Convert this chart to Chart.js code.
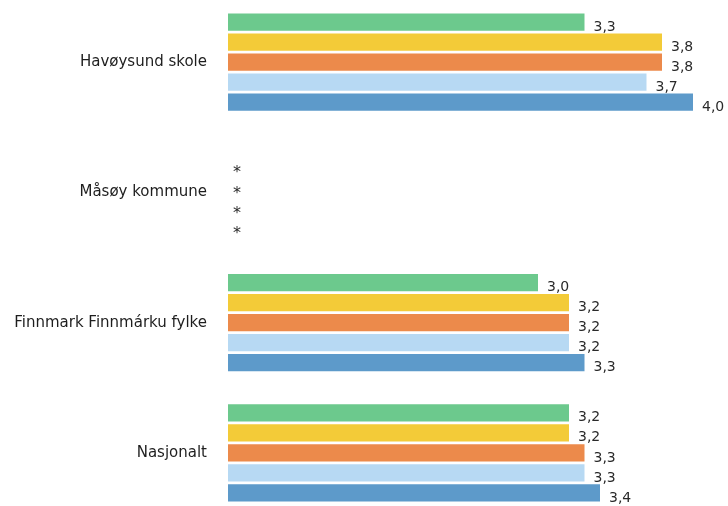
<!DOCTYPE html>
<html>
<head>
<meta charset="utf-8">
<script src="https://cdn.jsdelivr.net/npm/chart.js@4/dist/chart.umd.min.js"></script>
<style>
  html, body { margin: 0; padding: 0; background: #ffffff; overflow: hidden; width: 728px; height: 506px; }
  #wrap { position: absolute; left: 0; top: -3px; width: 728px; height: 521px; }
</style>
</head>
<body>
<div id="wrap"><canvas id="c"></canvas></div>
<script>
// ---- data ----
const categories = ['Havøysund skole', 'Måsøy kommune', 'Finnmark Finnmárku fylke', 'Nasjonalt'];
const seriesNames = ['Serie 1', 'Serie 2', 'Serie 3', 'Serie 4', 'Serie 5'];
const series1 = [3.3, null, 3.0, 3.2];
const series2 = [3.8, null, 3.2, 3.2];
const series3 = [3.8, null, 3.2, 3.3];
const series4 = [3.7, null, 3.2, 3.3];
const series5 = [4.0, null, 3.3, 3.4];
// which series show "*" (too few answers) per category
const hiddenMark = [
  [false, false, false, false, false],
  [false, true, true, true, true],
  [false, false, false, false, false],
  [false, false, false, false, false]
];
const scaleMin = 1;
const scaleMax = 4.2;

const colors = ['#6cc98d', '#f3cb38', '#ec8a4b', '#b7d9f3', '#5d9aca'];
const allSeries = [series1, series2, series3, series4, series5];

const labelPlugin = {
  id: 'valueLabels',
  afterDatasetsDraw(chart) {
    const ctx = chart.ctx;
    const xScale = chart.scales.x;
    ctx.save();
    ctx.fillStyle = '#2a2a2a';
    ctx.textBaseline = 'middle';
    ctx.textAlign = 'left';
    chart.data.datasets.forEach((ds, di) => {
      const meta = chart.getDatasetMeta(di);
      meta.data.forEach((el, i) => {
        const v = ds.data[i];
        if (v !== null && v !== undefined) {
          ctx.font = '14px "DejaVu Sans", sans-serif';
          ctx.fillText(v.toFixed(1).replace('.', ','), el.x + 9, el.y + 5);
        } else if (hiddenMark[i] && hiddenMark[i][di]) {
          ctx.font = '16px "DejaVu Sans", sans-serif';
          ctx.fillText('*', xScale.getPixelForValue(scaleMin) + 5, el.y + 1);
        }
      });
    });
    ctx.restore();
  }
};

new Chart(document.getElementById('c'), {
  type: 'bar',
  data: {
    labels: categories,
    datasets: allSeries.map((d, i) => ({
      label: seriesNames[i],
      data: d,
      backgroundColor: colors[i],
      borderWidth: 0,
      barPercentage: 0.86,
      categoryPercentage: 0.77
    }))
  },
  options: {
    indexAxis: 'y',
    responsive: true,
    maintainAspectRatio: false,
    animation: false,
    layout: { padding: { left: 0, right: 4, top: 0, bottom: 0 } },
    plugins: { legend: { display: false }, tooltip: { enabled: false } },
    scales: {
      x: {
        display: false,
        min: scaleMin,
        max: scaleMax,
        grid: { display: false }
      },
      y: {
        grid: { display: false, drawTicks: false },
        border: { display: false },
        ticks: {
          color: '#1e1e1e',
          padding: 21,
          font: { family: '"DejaVu Sans", sans-serif', size: 15 }
        },
        afterFit(scale) {
          scale.width = 228;
          scale.paddingTop = 0;
          scale.paddingBottom = 0;
        }
      }
    }
  },
  plugins: [labelPlugin]
});
</script>
</body>
</html>
